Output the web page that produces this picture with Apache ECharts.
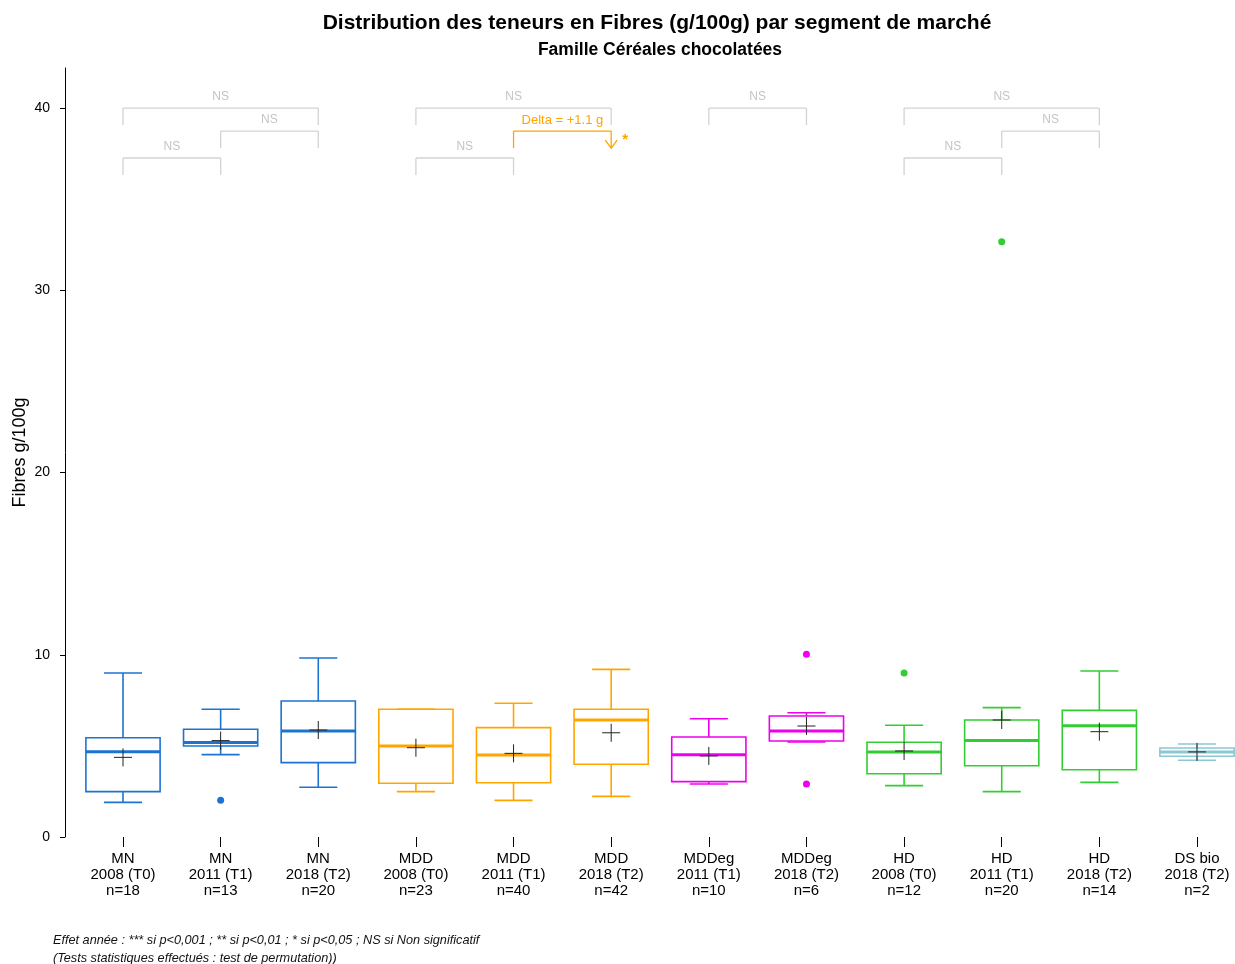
<!DOCTYPE html>
<html>
<head>
<meta charset="utf-8">
<script src="https://cdn.jsdelivr.net/npm/echarts@6/dist/echarts.min.js"></script>
<style>html,body{margin:0;padding:0;background:#fff}#c{width:1235px;height:964px}</style>
</head>
<body>
<div id="c"></div>
<script>
// ---- data ----
const segments = ['MN','MN','MN','MDD','MDD','MDD','MDDeg','MDDeg','HD','HD','HD','DS bio'];
const years = ['2008 (T0)','2011 (T1)','2018 (T2)','2008 (T0)','2011 (T1)','2018 (T2)','2011 (T1)','2018 (T2)','2008 (T0)','2011 (T1)','2018 (T2)','2018 (T2)'];
const counts = [18,13,20,23,40,42,10,6,12,20,14,2];
const whiskerLow  = [1.90,4.52,2.73,2.49,2.01,2.23,2.91,5.21,2.82,2.49,3.00,4.21];
const q1          = [2.49,4.99,4.08,2.95,2.98,3.99,3.04,5.27,3.47,3.91,3.69,4.43];
const medians     = [4.68,5.18,5.82,4.99,4.50,6.42,4.52,5.82,4.67,5.29,6.11,4.67];
const q3          = [5.45,5.91,7.46,7.01,6.00,7.01,5.49,6.64,5.20,6.42,6.95,4.88];
const whiskerHigh = [9.00,7.01,9.82,7.01,7.34,9.20,6.49,6.82,6.13,7.10,9.11,5.10];
const means       = [4.37,5.29,5.87,4.90,4.59,5.72,4.45,6.09,4.72,6.42,5.78,4.67];
const outliers = [[1,2.01],[7,10.03],[7,2.91],[8,9.00],[9,32.66]];
const yTicks = [0,10,20,30,40];
// significance brackets: from index, to index, level, label
const brackets = [
  [0,2,0,'NS'],[1,2,1,'NS'],[0,1,2,'NS'],
  [3,5,0,'NS'],[4,5,1,'Delta = +1.1 g'],[3,4,2,'NS'],
  [6,7,0,'NS'],
  [8,10,0,'NS'],[9,10,1,'NS'],[8,9,2,'NS']
];
const sigBracket = 4; // index of the significant bracket
const sigMark = '*';

// ---- styles ----
const segColors = {'MN':'#1C74D0','MDD':'#FFA500','MDDeg':'#EE00EE','HD':'#32CD32','DS bio':'#8CC8D2'};
const levelValues = [40, 38.74, 37.26];
const FONT = '"Liberation Sans", Arial, sans-serif';

const catLabels = segments.map((s,i)=> s + '\n' + years[i] + '\nn=' + counts[i]);
const boxData = segments.map((s,i)=>[i, whiskerLow[i], q1[i], medians[i], q3[i], whiskerHigh[i], means[i]]);

const chart = echarts.init(document.getElementById('c'));
chart.setOption({
  animation:false,
  backgroundColor:'#fff',
  grid:{left:123, top:68, right:38, bottom:127, containLabel:false, outerBoundsMode:'none'},
  xAxis:{
    type:'category', data:catLabels, offset:3, boundaryGap:false,
    axisLine:{show:false},
    axisTick:{show:true, length:10, lineStyle:{color:'#000',width:1}},
    axisLabel:{interval:0, fontFamily:FONT, fontSize:15, lineHeight:16, color:'#000', margin:11},
    splitLine:{show:false}
  },
  yAxis:{
    type:'value', min:0, max:42.2, interval:10, offset:58,
    name:'Fibres g/100g', nameLocation:'middle', nameRotate:90, nameGap:36, nameMoveOverlap:false,
    nameTextStyle:{fontFamily:FONT,fontSize:18,color:'#000'},
    axisLine:{show:true, lineStyle:{color:'#000',width:1}},
    axisTick:{show:true, length:5, customValues:yTicks, lineStyle:{color:'#000'}},
    axisLabel:{customValues:yTicks, fontFamily:FONT, fontSize:14, color:'#000', margin:15},
    splitLine:{show:false}
  },
  series:[
    {
      type:'custom', data:boxData, encode:{x:0, y:[1,2,3,4,5,6]}, z:3, clip:false,
      renderItem:function(params, api){
        const i = api.value(0);
        const bw = api.size([1,0])[0];
        const half = bw*0.38, cap = bw*0.195, mh = 9;
        const x = api.coord([i,0])[0];
        const yL = api.coord([i,api.value(1)])[1];
        const yQ1 = api.coord([i,api.value(2)])[1];
        const yM = api.coord([i,api.value(3)])[1];
        const yQ3 = api.coord([i,api.value(4)])[1];
        const yH = api.coord([i,api.value(5)])[1];
        const yMean = api.coord([i,api.value(6)])[1];
        const color = segColors[segments[i]];
        const st = {stroke:color, lineWidth:1.6, fill:null};
        return {type:'group', children:[
          {type:'line', shape:{x1:x,y1:yQ3,x2:x,y2:yH}, style:st},
          {type:'line', shape:{x1:x,y1:yQ1,x2:x,y2:yL}, style:st},
          {type:'line', shape:{x1:x-cap,y1:yH,x2:x+cap,y2:yH}, style:st},
          {type:'line', shape:{x1:x-cap,y1:yL,x2:x+cap,y2:yL}, style:st},
          {type:'rect', shape:{x:x-half,y:yQ3,width:2*half,height:yQ1-yQ3}, style:{stroke:color,lineWidth:1.6,fill:'none'}},
          {type:'line', shape:{x1:x-half,y1:yM,x2:x+half,y2:yM}, style:{stroke:color,lineWidth:3}},
          {type:'line', shape:{x1:x-mh,y1:yMean,x2:x+mh,y2:yMean}, style:{stroke:'#222',lineWidth:1}},
          {type:'line', shape:{x1:x,y1:yMean-mh,x2:x,y2:yMean+mh}, style:{stroke:'#222',lineWidth:1}}
        ]};
      }
    },
    {
      type:'scatter', data:outliers, symbol:'circle', symbolSize:7, z:4, clip:false,
      itemStyle:{opacity:1, color:function(p){return segColors[segments[p.data[0]]];}}
    },
    {
      type:'custom', z:2, clip:false,
      data:brackets.map(b=>[b[0], b[1], levelValues[b[2]]]),
      encode:{x:[0,1], y:2},
      renderItem:function(params, api){
        const k = params.dataIndex;
        const b = brackets[k];
        const yv = levelValues[b[2]];
        const p1 = api.coord([b[0], yv]);
        const p2 = api.coord([b[1], yv]);
        const leg = 17;
        const sig = (k === sigBracket);
        const col = sig ? '#FFA500' : '#D3D3D3';
        const st = {stroke:col, lineWidth:1.3, fill:null};
        const ch = [
          {type:'line', shape:{x1:p1[0],y1:p1[1],x2:p2[0],y2:p2[1]}, style:st},
          {type:'line', shape:{x1:p1[0],y1:p1[1],x2:p1[0],y2:p1[1]+leg}, style:st},
          {type:'line', shape:{x1:p2[0],y1:p2[1],x2:p2[0],y2:p2[1]+leg}, style:st},
          {type:'text', style:{text:b[3], x:(p1[0]+p2[0])/2, y:p1[1]-11, align:'center', verticalAlign:'middle',
            fill: sig ? '#FFA500' : '#C4C4C4', fontFamily:FONT, fontSize: sig ? 13 : 12}}
        ];
        if (sig) {
          ch.push({type:'polyline', shape:{points:[[p2[0]-6,p2[1]+9],[p2[0],p2[1]+leg],[p2[0]+6,p2[1]+9]]}, style:st});
          ch.push({type:'text', style:{text:sigMark, x:p2[0]+14, y:p2[1]+9, align:'center', verticalAlign:'middle',
            fill:'#FFA500', fontFamily:FONT, fontSize:15, fontWeight:'bold'}});
        }
        return {type:'group', children:ch};
      }
    }
  ],
  graphic:[
    {type:'text', x:657, y:23, style:{text:'Distribution des teneurs en Fibres (g/100g) par segment de marché',
      align:'center', verticalAlign:'middle', fontFamily:FONT, fontSize:21, fontWeight:'bold', fill:'#000'}},
    {type:'text', x:660, y:50, style:{text:'Famille Céréales chocolatées',
      align:'center', verticalAlign:'middle', fontFamily:FONT, fontSize:17.5, fontWeight:'bold', fill:'#000'}},
    {type:'text', x:53, y:940, style:{text:'Effet année : *** si p<0,001 ; ** si p<0,01 ; * si p<0,05 ; NS si Non significatif',
      verticalAlign:'middle', fontFamily:FONT, fontSize:12.7, fontStyle:'italic', fill:'#111'}},
    {type:'text', x:53, y:958, style:{text:'(Tests statistiques effectués : test de permutation))',
      verticalAlign:'middle', fontFamily:FONT, fontSize:12.7, fontStyle:'italic', fill:'#111'}}
  ]
});
</script>
</body>
</html>
